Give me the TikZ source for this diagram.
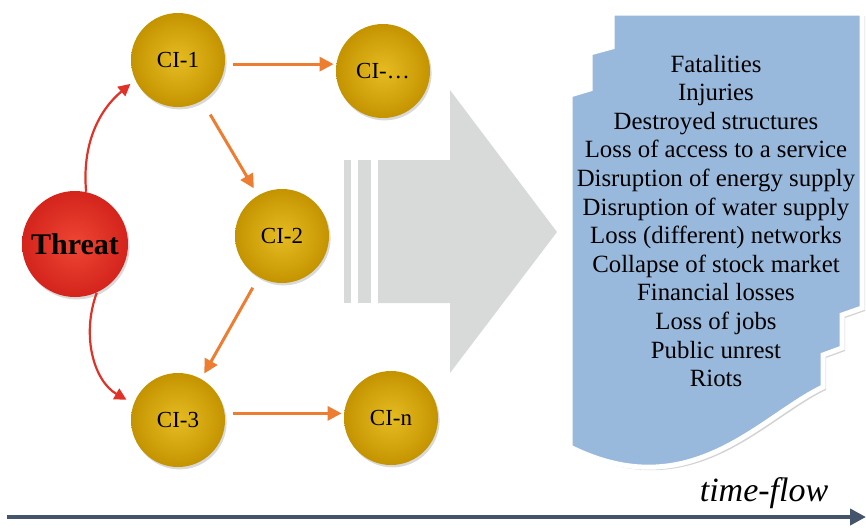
\documentclass[tikz,border=0pt]{standalone}
\usepackage{fontspec}
\setmainfont{Liberation Serif}
\usetikzlibrary{arrows.meta,shadows}
\definecolor{cilight}{RGB}{230,188,34}
\definecolor{cidark}{RGB}{196,148,0}
\definecolor{redlight}{RGB}{238,70,52}
\definecolor{reddark}{RGB}{212,36,28}
\definecolor{linkorange}{RGB}{237,125,49}
\definecolor{hitred}{RGB}{224,50,38}
\definecolor{flowgray}{RGB}{216,218,218}
\definecolor{docblue}{RGB}{152,184,220}
\definecolor{axisblue}{RGB}{68,84,106}
\begin{document}
\begin{tikzpicture}[x=0.5pt, y=0.5pt]
\tikzstyle{ci}=[circle, minimum size=47pt, inner sep=0pt, inner color=cilight, outer color=cidark, drop shadow={opacity=0.3, shadow xshift=0.8pt, shadow yshift=-1.2pt}, font=\fontsize{11.5}{13}\selectfont]
\tikzstyle{threat}=[circle, minimum size=53pt, inner sep=0pt, inner color=redlight, outer color=reddark, drop shadow={opacity=0.3, shadow xshift=0.8pt, shadow yshift=-1.2pt}, font=\fontsize{15}{17}\selectfont\bfseries]
\tikzstyle{link}=[draw=linkorange, line width=1.5pt, -{Triangle[length=7pt,width=7pt]}]
\tikzstyle{hit}=[draw=hitred, line width=1.1pt, -{Triangle[length=6pt,width=6pt]}]
\useasboundingbox (0,0) rectangle (866,527);
    \fill[flowgray] (378,367) -- (450,367) -- (450,437) -- (557,295) -- (450,154) -- (450,224) -- (378,224) -- cycle;
    \fill[flowgray] (344,224) rectangle (351,367);
    \fill[flowgray] (358,224) rectangle (371,367);
    \filldraw[draw=white, line width=2.5pt, fill=docblue, drop shadow={opacity=0.35, shadow xshift=1.5pt, shadow yshift=-1.5pt}]
        (612,514) -- (862,514) -- (862,219) -- (842,212) -- (842,179) -- (823,172) -- (823,140)
        .. controls (760,110) and (690,20) .. (570,80) -- (570,432) -- (590,438) -- (590,474) -- (612,480) -- cycle;
    \node [align=center, font=\fontsize{12.4}{14.3}\selectfont] (impacts) at (716,306) {Fatalities\\Injuries\\Destroyed structures\\Loss of access to a service\\Disruption of energy supply\\Disruption of water supply\\Loss (different) networks\\Collapse of stock market\\Financial losses\\Loss of jobs\\Public unrest\\Riots};
    \node [threat] (th) at (75,283) {Threat};
    \node [ci] (c1) at (178,467) {CI-1};
    \node [ci] (cdots) at (383,456) {CI-\dots};
    \node [ci] (c2) at (282,291) {CI-2};
    \node [ci] (c3) at (178,107) {CI-3};
    \node [ci] (cn) at (391,109) {CI-n};
    \draw [link, shorten <=4pt, shorten >=1pt] (c1.-5) -- (c1.-5 -| cdots.west);
    \draw [link, shorten <=8pt, shorten >=4pt] (c1) -- (c2);
    \draw [link, shorten <=6pt, shorten >=3pt] (c2) -- (c3);
    \draw [link, shorten <=4pt, shorten >=1pt] (c3.8) -- (c3.8 -| cn.west);
    \draw [hit, shorten >=3pt] (th.78) to[out=95, in=220] (c1.205);
    \draw [hit, shorten >=4pt] (th.294) to[out=250, in=150] (c3.160);
    \coordinate (t0) at (7,10);
    \coordinate (t1) at (866,10);
    \draw [draw=axisblue, line width=2.2pt, -{Triangle[length=8pt,width=8pt]}] (t0) -- (t1);
    \node [font=\fontsize{17}{20}\selectfont\itshape] (tflow) at (764,34) {time-flow};
\end{tikzpicture}
\end{document}
